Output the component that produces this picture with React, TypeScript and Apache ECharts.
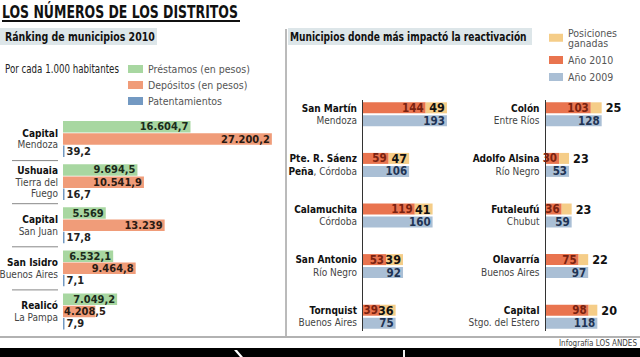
import React, { useEffect, useRef } from "react";
import * as echarts from "echarts";

const FONT = "'DejaVu Sans Condensed', 'Liberation Sans Narrow', 'Roboto', sans-serif";

// ---- Ránking de municipios 2010 (por cada 1.000 habitantes)
const rankCats = ["Capital, Mendoza", "Ushuaia, Tierra del Fuego", "Capital, San Juan", "San Isidro, Buenos Aires", "Realicó, La Pampa"];
const rankLabels = [
  "{b|Capital}\n{r|Mendoza}",
  "{b|Ushuaia}\n{r|Tierra del}\n{r|Fuego}",
  "{b|Capital}\n{r|San Juan}",
  "{b|San Isidro}\n{r|Buenos Aires}",
  "{b|Realicó}\n{r|La Pampa}",
];
const prestamos = [16604.7, 9694.5, 5569, 6532.1, 7049.2];
const depositos = [27200.2, 10541.9, 13239, 9464.8, 4208.5];
const patentamientos = [39.2, 16.7, 17.8, 7.1, 7.9];

// ---- Municipios donde más impactó la reactivación (columna izquierda)
const colACats = ["San Martín, Mendoza", "Pte. R. Sáenz Peña, Córdoba", "Calamuchita, Córdoba", "San Antonio, Río Negro", "Tornquist, Buenos Aires"];
const colALabels = [
  "{b|San Martín}\n{r|Mendoza}",
  "{b|Pte. R. Sáenz}\n{b|Peña}{r|, Córdoba}",
  "{b|Calamuchita}\n{r|Córdoba}",
  "{b|San Antonio}\n{r|Río Negro}",
  "{b|Tornquist}\n{r|Buenos Aires}",
];
const colA2010 = [144, 59, 119, 53, 39];
const colAGained = [49, 47, 41, 39, 36];
const colA2009 = [193, 106, 160, 92, 75];

// ---- columna derecha
const colBCats = ["Colón, Entre Ríos", "Adolfo Alsina, Río Negro", "Futaleufú, Chubut", "Olavarría, Buenos Aires", "Capital, Stgo. del Estero"];
const colBLabels = [
  "{b|Colón}\n{r|Entre Ríos}",
  "{b|Adolfo Alsina}\n{r|Río Negro}",
  "{b|Futaleufú}\n{r|Chubut}",
  "{b|Olavarría}\n{r|Buenos Aires}",
  "{b|Capital}\n{r|Stgo. del Estero}",
];
const colB2010 = [103, 30, 36, 75, 98];
const colBGained = [25, 23, 23, 22, 20];
const colB2009 = [128, 53, 59, 97, 118];

const C_GREEN = "#a8d7a1";
const C_SALMON = "#f09c79";
const C_PAT = "#7399c2";
const C_2010 = "#e9744f";
const C_GAIN = "#f5cd88";
const C_2009 = "#aabfd5";
const HEADER_BG = "#dde6e9";

function fmt(v: number): string {
  const isInt = Math.abs(v - Math.round(v)) < 1e-9;
  const parts = (isInt ? Math.round(v).toString() : v.toFixed(1)).split(".");
  const intPart = parts[0].replace(/\B(?=(\d{3})+(?!\d))/g, ".");
  return parts.length > 1 ? intPart + "," + parts[1] : intPart;
}

function measure(text: string, font: string): number {
  const ctx = document.createElement("canvas").getContext("2d");
  if (!ctx) return 0;
  ctx.font = font;
  return ctx.measureText(text).width;
}

function fitScale(text: string, font: string, target: number): number {
  const w = measure(text, font);
  return w > 0 ? target / w : 1;
}

export default function App() {
  const ref = useRef<HTMLDivElement>(null);

  useEffect(() => {
    if (!ref.current) return;
    const chart = echarts.init(ref.current, undefined, { renderer: "svg" });

    const TITLE = "LOS NÚMEROS DE LOS DISTRITOS";
    const titleFont = `bold 18px ${FONT}`;
    const H1 = "Ránking de municipios 2010";
    const H2 = "Municipios donde más impactó la reactivación";
    const hFont = `bold 13px ${FONT}`;
    const SUB = "Por cada 1.000 habitantes";
    const subFont = `12px ${FONT}`;

    const richL = {
      b: { fontFamily: FONT, fontWeight: "bold", fontSize: 10, color: "#111", lineHeight: 11.5, align: "right" },
      r: { fontFamily: FONT, fontSize: 10, color: "#444", lineHeight: 11.5, align: "right" },
    };
    const richR = {
      b: { fontFamily: FONT, fontWeight: "bold", fontSize: 10, color: "#111", lineHeight: 12.5, align: "right" },
      r: { fontFamily: FONT, fontSize: 10, color: "#444", lineHeight: 12.5, align: "right" },
    };

    const barLabel = (color: string, position: string, distance = 2, fontSize = 11.5) => ({
      show: true,
      position,
      distance,
      color,
      fontFamily: FONT,
      fontWeight: "bold",
      fontSize,
      formatter: (p: any) => fmt(p.value),
    });

    const catAxis = (gridIndex: number, data: string[], labels: string[], rich: any, margin: number) => ({
      type: "category",
      gridIndex,
      data,
      inverse: true,
      axisLine: { show: false },
      axisTick: { show: false },
      axisLabel: { interval: 0, margin, formatter: (_v: string, i: number) => labels[i], rich },
    });

    const valAxis = (gridIndex: number, max: number) => ({
      type: "value",
      gridIndex,
      min: 0,
      max,
      show: false,
      splitLine: { show: false },
    });

    const rightSeries = (idx: number, v2010: number[], gained: number[], v2009: number[], gainPos: string) => [
      {
        type: "bar",
        name: "Año 2010",
        xAxisIndex: idx,
        yAxisIndex: idx,
        stack: "r" + idx,
        data: v2010,
        barWidth: 11,
        barGap: "18%",
        itemStyle: { color: C_2010 },
        label: barLabel("#7a2210", "insideRight", 2, 11.5),
      },
      {
        type: "bar",
        name: "Posiciones ganadas",
        xAxisIndex: idx,
        yAxisIndex: idx,
        stack: "r" + idx,
        data: gained,
        barWidth: 11,
        barGap: "18%",
        itemStyle: { color: C_GAIN },
        label: barLabel("#111", gainPos, gainPos === "right" ? 4 : 2, 12.5),
      },
      {
        type: "bar",
        name: "Año 2009",
        xAxisIndex: idx,
        yAxisIndex: idx,
        data: v2009,
        barWidth: 11,
        barGap: "18%",
        itemStyle: { color: C_2009 },
        label: barLabel("#1f3454", "insideRight", 2, 11.5),
      },
    ];

    // the narrow Depósitos bar keeps its label from its start, as in the print
    const depositosData = depositos.map((v) => ({
      value: v,
      label: v < 6000 ? { position: "insideLeft", distance: 1 } : undefined,
    }));

    const option: any = {
      animation: false,
      backgroundColor: "#ffffff",
      textStyle: { fontFamily: FONT },
      grid: [
        { left: 63, top: 117.5, width: 215, height: 215.5, outerBoundsMode: "none", containLabel: false },
        { left: 363, top: 89, width: 87, height: 253, outerBoundsMode: "none", containLabel: false },
        { left: 546, top: 89, width: 87, height: 253, outerBoundsMode: "none", containLabel: false },
      ],
      xAxis: [valAxis(0, 28000), valAxis(1, 200), valAxis(2, 200)],
      yAxis: [
        catAxis(0, rankCats, rankLabels, richL, 5),
        catAxis(1, colACats, colALabels, richR, 6),
        catAxis(2, colBCats, colBLabels, richR, 6.5),
      ],
      legend: [
        {
          orient: "vertical",
          left: 123,
          top: 58,
          icon: "rect",
          itemWidth: 15,
          itemHeight: 8,
          itemGap: 4,
          data: ["Préstamos (en pesos)", "Depósitos (en pesos)", "Patentamientos"],
          textStyle: { color: "#555", fontSize: 10.5, lineHeight: 12, fontFamily: FONT },
          selectedMode: false,
        },
        {
          orient: "vertical",
          left: 544,
          top: 22,
          icon: "rect",
          itemWidth: 14,
          itemHeight: 8,
          itemGap: 6,
          data: ["Posiciones ganadas", "Año 2010", "Año 2009"],
          formatter: (n: string) => (n === "Posiciones ganadas" ? "Posiciones\nganadas" : n),
          textStyle: { color: "#555", fontSize: 10.5, lineHeight: 10.5, fontFamily: FONT },
          selectedMode: false,
        },
      ],
      series: [
        {
          type: "bar",
          name: "Préstamos (en pesos)",
          xAxisIndex: 0,
          yAxisIndex: 0,
          data: prestamos,
          barWidth: 11.5,
          barGap: "6%",
          itemStyle: { color: C_GREEN },
          label: barLabel("#1b2b1b", "insideRight", 2, 11),
        },
        {
          type: "bar",
          name: "Depósitos (en pesos)",
          xAxisIndex: 0,
          yAxisIndex: 0,
          data: depositosData,
          barWidth: 11.5,
          barGap: "6%",
          itemStyle: { color: C_SALMON },
          label: barLabel("#2a1a12", "insideRight", 2, 11),
        },
        {
          type: "bar",
          name: "Patentamientos",
          xAxisIndex: 0,
          yAxisIndex: 0,
          data: patentamientos,
          barWidth: 11.5,
          barGap: "6%",
          barMinHeight: 1.5,
          itemStyle: { color: C_PAT },
          label: barLabel("#222", "right", 2, 11),
        },
        ...rightSeries(1, colA2010, colAGained, colA2009, "insideRight"),
        ...rightSeries(2, colB2010, colBGained, colB2009, "right"),
      ],
      graphic: [
        {
          type: "text",
          x: 2,
          y: 3,
          scaleX: fitScale(TITLE, titleFont, 236),
          style: { text: TITLE, font: titleFont, fill: "#111", textVerticalAlign: "top" },
        },
        { type: "rect", shape: { x: 2, y: 20, width: 238, height: 2 }, style: { fill: "#111" } },
        { type: "rect", shape: { x: 0, y: 28, width: 157, height: 17 }, style: { fill: HEADER_BG } },
        {
          type: "text",
          x: 5,
          y: 36.5,
          scaleX: fitScale(H1, hFont, 150),
          style: { text: H1, font: hFont, fill: "#111", textVerticalAlign: "middle" },
        },
        { type: "rect", shape: { x: 288, y: 28, width: 244, height: 17 }, style: { fill: HEADER_BG } },
        {
          type: "text",
          x: 290,
          y: 36.5,
          scaleX: fitScale(H2, hFont, 237),
          style: { text: H2, font: hFont, fill: "#111", textVerticalAlign: "middle" },
        },
        {
          type: "text",
          x: 5,
          y: 69,
          scaleX: fitScale(SUB, subFont, 114),
          style: { text: SUB, font: subFont, fill: "#222", textVerticalAlign: "middle" },
        },
        { type: "line", shape: { x1: 286, y1: 29, x2: 286, y2: 336 }, style: { stroke: "#777", lineWidth: 1 } },
        { type: "line", shape: { x1: 0, y1: 337, x2: 640, y2: 337 }, style: { stroke: "#666", lineWidth: 1.2 } },
        { type: "line", shape: { x1: 362.5, y1: 100, x2: 362.5, y2: 331 }, style: { stroke: "#333", lineWidth: 1 } },
        { type: "line", shape: { x1: 545.5, y1: 100, x2: 545.5, y2: 331 }, style: { stroke: "#333", lineWidth: 1 } },
        ...[160.6, 203.7, 246.8, 289.9].map((y) => ({
          type: "line",
          shape: { x1: 12, y1: y, x2: 58, y2: y },
          style: { stroke: "#888", lineWidth: 1 },
        })),
        {
          type: "text",
          x: 637,
          y: 343,
          style: { text: "Infografía LOS ANDES", font: `8px ${FONT}`, fill: "#444", textAlign: "right", textVerticalAlign: "middle" },
        },
        { type: "rect", shape: { x: 0, y: 348, width: 640, height: 9 }, style: { fill: "#000" } },
        { type: "polygon", shape: { points: [[234, 350], [237, 350], [243, 357], [240, 357]] }, style: { fill: "#fff" } },
        { type: "polygon", shape: { points: [[403, 350], [405, 350], [405, 357], [403, 357]] }, style: { fill: "#eee" } },
      ],
    };

    chart.setOption(option);
    return () => chart.dispose();
  }, []);

  return <div ref={ref} style={{ position: "fixed", left: 0, top: 0, width: 640, height: 357 }} />;
}
